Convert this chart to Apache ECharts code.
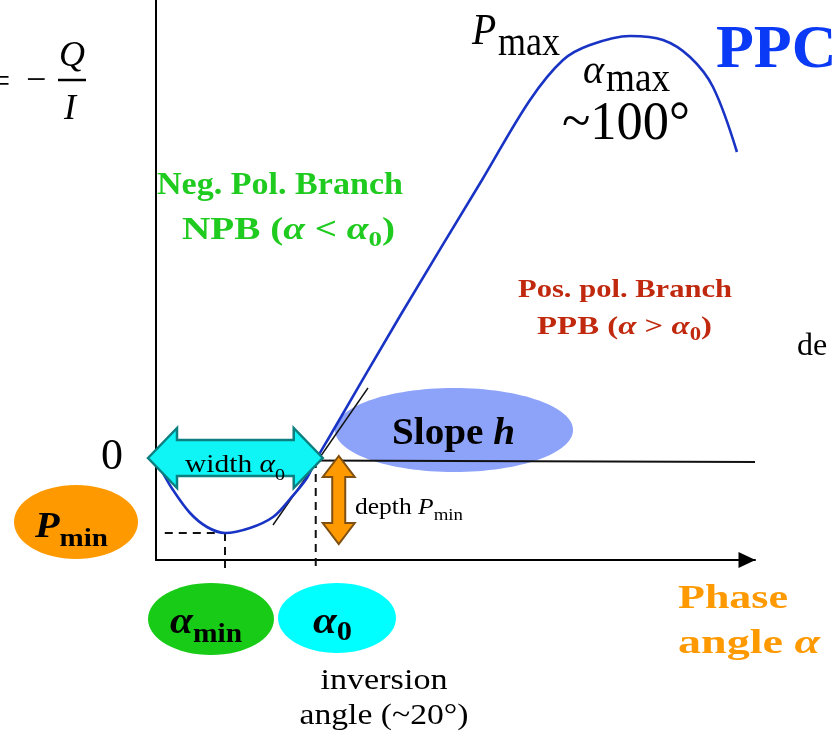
<!DOCTYPE html>
<html>
<head>
<meta charset="utf-8">
<script src="https://cdn.jsdelivr.net/npm/echarts@6/dist/echarts.min.js"></script>
<style>
  html, body { margin: 0; padding: 0; background: #fff; }
  #chart { width: 832px; height: 731px; }
</style>
</head>
<body>
<div id="chart"></div>
<script>
// Schematic polarization phase curve P(α): negative branch, inversion, positive branch.
const phaseAngle   = [0, 0.5, 2.13, 4.26, 6.39, 8.64, 11.77, 14.65, 16.78, 18.9, 20.03, 21.78, 30.55, 40.82, 46.83, 50.96, 54.34, 59.35, 63.48, 66.86, 69.74, 72.74];
const polarization = [-0.2, -0.8, -3.0, -5.3, -6.7, -7.3, -6.8, -5.7, -3.9, -1.8, 0, 2.4, 14.4, 28.0, 36.0, 40.0, 41.5, 42.4, 42.0, 40.3, 37.3, 30.8];

// characteristic points
const alphaMin = 8.64;
const pMin = -7.3;
const alpha0 = 20;

// tangent at the inversion angle (slope h)
const tangentAngle = [14.65, 26.54];
const tangentP = [-6.5, 7.2];

// zero-polarization reference line
const zeroAngle = [0, 75];
const zeroP = [0, -0.2];

// dashed guides: start of the Pmin guide, and how far the drop lines go below the axis
const minGuideStart = 1.1;
const dropEnd = [-10.8, -11.2];

const pair = (xs, ys) => xs.map((x, i) => [x, ys[i]]);

const chart = echarts.init(document.getElementById('chart'), null, { renderer: 'canvas' });

const dashed = { color: '#111', width: 2, type: [8, 6] };

chart.setOption({
  animation: false,
  grid: { left: 156, top: 0, width: 599, height: 560 },
  xAxis: {
    type: 'value', min: 0, max: 75,
    axisLine: {
      show: true, onZero: false,
      symbol: ['none', 'triangle'], symbolSize: [16, 17], symbolOffset: [0, -8],
      lineStyle: { color: '#000', width: 2 }
    },
    axisTick: { show: false }, axisLabel: { show: false }, splitLine: { show: false }
  },
  yAxis: {
    type: 'value', min: -10, max: 46,
    axisLine: { show: true, onZero: false, lineStyle: { color: '#000', width: 2 } },
    axisTick: { show: false }, axisLabel: { show: false }, splitLine: { show: false }
  },
  series: [
    { type: 'line', data: pair(zeroAngle, zeroP), showSymbol: false, symbol: 'none',
      lineStyle: { color: '#111', width: 1.8 }, z: 3 },
    { type: 'line', data: pair(tangentAngle, tangentP), showSymbol: false, symbol: 'none',
      lineStyle: { color: '#111', width: 1.4 }, z: 3 },
    { type: 'line', data: [[minGuideStart, pMin], [alphaMin, pMin]], showSymbol: false, symbol: 'none',
      lineStyle: dashed, z: 3 },
    { type: 'line', data: [[alphaMin, pMin], [alphaMin, dropEnd[0]]], showSymbol: false, symbol: 'none',
      lineStyle: dashed, clip: false, z: 3 },
    { type: 'line', data: [[alpha0, 0], [alpha0, dropEnd[1]]], showSymbol: false, symbol: 'none',
      lineStyle: dashed, clip: false, z: 3 },
    { type: 'line', data: pair(phaseAngle, polarization), smooth: 0.35, showSymbol: false, symbol: 'none',
      lineStyle: { color: '#1934C4', width: 2.6 }, z: 4 }
  ]
});

// ---- annotation layer ----
const SERIF = '"Liberation Serif", "Times New Roman", serif';
const measureCtx = document.createElement('canvas').getContext('2d');
function cssFont(p) {
  return (p.i ? 'italic ' : '') + (p.b ? 'bold ' : '') + p.s + 'px ' + SERIF;
}
// A line of text made of runs (normal, italic, subscript ...), placed on a baseline,
// optionally stretched horizontally to a given width.
function textLine(spec) {
  const widths = spec.parts.map(p => {
    measureCtx.font = cssFont(p);
    return measureCtx.measureText(p.t).width + (p.dx || 0);
  });
  const natural = widths.reduce((a, b) => a + b, 0);
  const sx = spec.w ? spec.w / natural : 1;
  const total = natural * sx;
  const left = spec.align === 'center' ? spec.x - total / 2 : spec.x;
  let cur = 0;
  const children = spec.parts.map((p, i) => {
    const el = {
      type: 'text', z: 30,
      x: cur + (p.dx || 0),
      y: spec.y + (p.dy || 0) - 0.34 * p.s + 4,
      style: {
        text: p.t, fontSize: p.s, fontFamily: SERIF,
        fontWeight: p.b ? 'bold' : 'normal', fontStyle: p.i ? 'italic' : 'normal',
        fill: p.fill || spec.fill || '#000', align: 'left', verticalAlign: 'middle'
      }
    };
    cur += widths[i];
    return el;
  });
  return { type: 'group', x: left, y: 0, scaleX: sx, z: 30, children };
}

function doubleArrowH(x1, x2, cy, headLen, headHalf, shaftHalf) {
  return [
    [x1, cy], [x1 + headLen, cy - headHalf], [x1 + headLen, cy - shaftHalf],
    [x2 - headLen, cy - shaftHalf], [x2 - headLen, cy - headHalf], [x2, cy],
    [x2 - headLen, cy + headHalf], [x2 - headLen, cy + shaftHalf],
    [x1 + headLen, cy + shaftHalf], [x1 + headLen, cy + headHalf]
  ];
}
function doubleArrowV(cx, y1, y2, headLen, headHalf, shaftHalf) {
  return doubleArrowH(y1, y2, cx, headLen, headHalf, shaftHalf).map(p => [p[1], p[0]]);
}

const px = (a, p) => chart.convertToPixel({ gridIndex: 0 }, [a, p]);
const origin = px(0, 0);
const inv = px(alpha0, 0);
const minPt = px(alphaMin, pMin);

const GREEN = '#1FCB1F';
const RED = '#C0290E';
const ORANGE = '#FF9900';

const texts = [
  { x: -9, y: 91, parts: [{ t: '=', s: 34 }] },
  { x: 26, y: 90, parts: [{ t: '−', s: 36 }] },
  { x: 59, y: 65, parts: [{ t: 'Q', s: 36, i: 1 }] },
  { x: 64, y: 118, parts: [{ t: 'I', s: 36, i: 1 }] },
  { x: 112, y: 468, align: 'center', parts: [{ t: '0', s: 44 }] },
  { x: 472, y: 43, w: 88, parts: [{ t: 'P', s: 44, i: 1 }, { t: 'max', s: 40, dy: 11, dx: 2 }] },
  { x: 583, y: 82, w: 87, parts: [{ t: 'α', s: 42, i: 1 }, { t: 'max', s: 39, dy: 8, dx: 2 }] },
  { x: 562, y: 139, w: 128, parts: [{ t: '~100°', s: 54 }] },
  { x: 716, y: 68, fill: '#0A3AF6', parts: [{ t: 'PPC', s: 62, b: 1 }] },
  { x: 157, y: 193, w: 246, fill: GREEN, parts: [{ t: 'Neg. Pol. Branch', s: 32, b: 1 }] },
  { x: 182, y: 238, w: 213, fill: GREEN, parts: [
    { t: 'NPB (', s: 32, b: 1 }, { t: 'α', s: 32, b: 1, i: 1 }, { t: ' < ', s: 32, b: 1 },
    { t: 'α', s: 32, b: 1, i: 1 }, { t: '0', s: 22, b: 1, dy: 6 }, { t: ')', s: 32, b: 1 }] },
  { x: 518, y: 295, w: 214, fill: RED, parts: [{ t: 'Pos. pol. Branch', s: 26, b: 1 }] },
  { x: 537, y: 332, w: 175, fill: RED, parts: [
    { t: 'PPB (', s: 26, b: 1 }, { t: 'α', s: 26, b: 1, i: 1 }, { t: ' > ', s: 26, b: 1 },
    { t: 'α', s: 26, b: 1, i: 1 }, { t: '0', s: 18, b: 1, dy: 5 }, { t: ')', s: 26, b: 1 }] },
  { x: 797, y: 353, parts: [{ t: 'de', s: 32 }] },
  { x: 392, y: 443, w: 123, parts: [{ t: 'Slope ', s: 38, b: 1 }, { t: 'h', s: 38, b: 1, i: 1 }] },
  { x: 185, y: 470, w: 100, parts: [{ t: 'width ', s: 25 }, { t: 'α', s: 25, i: 1 }, { t: '0', s: 17, dy: 7 }] },
  { x: 355, y: 512, w: 108, parts: [{ t: 'depth ', s: 23 }, { t: 'P', s: 23, i: 1 }, { t: 'min', s: 17, dy: 5 }] },
  { x: 35, y: 536, w: 73, parts: [{ t: 'P', s: 36, b: 1, i: 1 }, { t: 'min', s: 26, b: 1, dy: 8 }] },
  { x: 170, y: 632, w: 72, parts: [{ t: 'α', s: 38, b: 1, i: 1 }, { t: 'min', s: 27, b: 1, dy: 8 }] },
  { x: 313, y: 632, w: 39, parts: [{ t: 'α', s: 38, b: 1, i: 1 }, { t: '0', s: 27, b: 1, dy: 6 }] },
  { x: 384, y: 687, w: 127, align: 'center', parts: [{ t: 'inversion', s: 29 }] },
  { x: 384, y: 722, w: 169, align: 'center', parts: [{ t: 'angle (~20°)', s: 29 }] },
  { x: 678, y: 607, w: 110, fill: ORANGE, parts: [{ t: 'Phase', s: 34, b: 1 }] },
  { x: 678, y: 652, w: 142, fill: ORANGE, parts: [{ t: 'angle ', s: 34, b: 1 }, { t: 'α', s: 34, b: 1, i: 1 }] }
];

const elements = [
  // label bubbles
  { type: 'ellipse', z: 0, shape: { cx: 454, cy: 430, rx: 119, ry: 42 }, style: { fill: '#8DA2F9' } },
  { type: 'ellipse', z: 10, shape: { cx: 76, cy: 522, rx: 62, ry: 37 }, style: { fill: ORANGE } },
  { type: 'ellipse', z: 10, shape: { cx: 211, cy: 619, rx: 63, ry: 36 }, style: { fill: '#17CB17' } },
  { type: 'ellipse', z: 10, shape: { cx: 337, cy: 618, rx: 59, ry: 35 }, style: { fill: '#00FFFF' } },
  // width of the negative branch: from α = 0 to α0
  { type: 'polygon', z: 20,
    shape: { points: doubleArrowH(origin[0] - 8, inv[0] + 7, origin[1] - 2, 29, 30, 18) },
    style: { fill: '#0FF5F5', stroke: '#0E7F80', lineWidth: 2.5 } },
  // depth of the negative branch: from 0 down to Pmin
  { type: 'polygon', z: 20,
    shape: { points: doubleArrowV(inv[0] + 23, origin[1] - 4, minPt[1] + 11, 21, 16, 6.5) },
    style: { fill: '#FF9900', stroke: '#7F5010', lineWidth: 2 } },
  // fraction bar of the definition P = −Q/I
  { type: 'line', z: 30, shape: { x1: 58, y1: 80, x2: 86, y2: 80 }, style: { stroke: '#000', lineWidth: 2.5 } }
].concat(texts.map(textLine));

chart.setOption({ graphic: { elements } });
</script>
</body>
</html>
